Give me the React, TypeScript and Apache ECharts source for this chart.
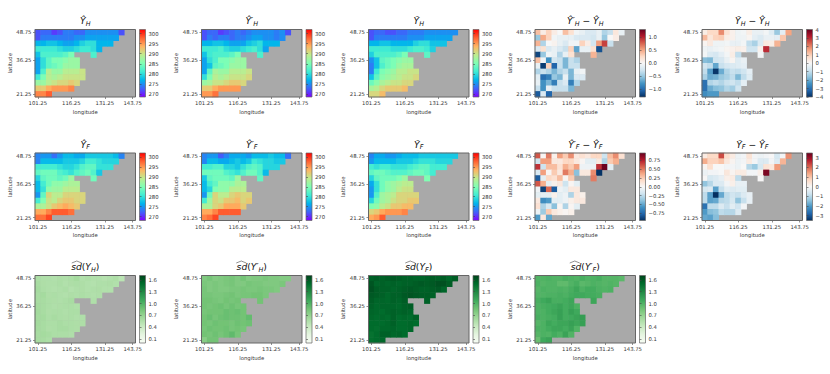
import React, { useEffect, useRef } from "react";
import * as echarts from "echarts";

const longitudes = ["101.25","103.75","106.25","108.75","111.25","113.75","116.25","118.75","121.25","123.75","126.25","128.75","131.25","133.75","136.25","138.75","141.25","143.75"];
const latitudesNorthFirst = ["48.75","46.25","43.75","41.25","38.75","36.25","33.75","31.25","28.75","26.25","23.75","21.25"];
const xTickIdx = [0, 6, 12, 17];
const yTickIdx = [0, 6, 11];

const _ = null;
const yHatH = [
  [272,273,273,271,272,274,274,273,273,275,275,275,275,275,275,272],
  [272,274,274,274,274,274,274,275,275,276,276,276,276,276,276],
  [277,277,278,278,277,276,276,277,279,280,280,277,277,277],
  [281,281,281,281,280,279,279,280,281,281,280,277],
  [278,282,282,282,282,283,285,_,_,_,282],
  [276,280,283,285,285,286,287,287],
  [276,280,283,284,285,287,287,287],
  [276,282,289,287,287,289,289,289,290],
  [281,285,289,288,289,290,290,290,290],
  [287,287,289,290,291,291,292,291],
  [292,292,294,295,295,295,296],
  [296,296,298],
];
const yPrimeH = [
  [272,273,273,271,272,273,274,273,274,275,275,275,275,274,275,272],
  [272,274,273,274,274,273,274,274,275,276,276,275,275,274,275],
  [277,277,278,278,277,276,276,276,278,279,280,277,277,277],
  [281,281,281,282,280,279,279,280,281,282,280,276],
  [278,281,282,282,282,283,285,_,_,_,282],
  [276,280,282,285,285,286,287,287],
  [276,278,283,284,285,287,287,287],
  [276,283,288,287,287,289,289,289,290],
  [280,285,289,288,289,290,290,290,291],
  [287,288,290,290,291,292,292,291],
  [292,292,294,295,295,295,295],
  [295,295,297],
];
const yTildeH = [
  [272,273,273,272,272,273,273,274,274,274,275,275,275,275,275,275],
  [272,274,274,274,274,274,274,275,275,275,276,276,276,276,276],
  [277,277,278,278,277,277,277,277,279,280,280,278,278,278],
  [281,281,281,281,280,280,280,281,282,282,281,279],
  [279,282,282,282,282,283,285,_,_,_,283],
  [275,278,283,284,285,286,287,287],
  [274,278,282,284,285,287,288,288],
  [274,281,285,286,287,289,289,290,290],
  [278,283,286,287,288,289,290,290,291],
  [284,286,288,289,290,290,291,291],
  [288,289,291,292,292,292,293],
  [291,291,293],
];
const yHatF = [
  [274,275,275,273,275,277,277,276,276,278,278,278,278,278,277,274],
  [274,277,277,277,277,278,278,278,279,281,281,280,279,279,279],
  [281,281,281,281,280,279,279,280,282,283,283,280,280,280],
  [283,284,284,284,282,281,280,282,283,284,282,278],
  [279,283,284,284,283,284,287,_,_,_,284],
  [277,281,284,286,286,287,288,288],
  [277,280,286,287,287,289,289,289],
  [275,283,291,289,289,291,291,291,291],
  [281,285,290,289,291,292,292,291,291],
  [288,288,290,292,293,294,293,292],
  [294,294,296,298,298,298,297],
  [297,297,299],
];
const yPrimeF = [
  [274,275,275,272,274,276,276,276,275,277,277,277,278,277,277,273],
  [274,277,277,276,276,277,278,277,278,281,280,279,279,278,278],
  [281,281,282,282,279,279,278,280,282,283,282,279,279,279],
  [284,284,284,284,282,281,280,282,284,284,282,277],
  [278,283,284,284,284,283,287,_,_,_,283],
  [277,281,283,286,286,286,288,288],
  [277,279,285,286,286,289,289,289],
  [275,284,291,289,289,291,292,291,291],
  [281,287,291,290,292,292,293,291,292],
  [288,288,291,292,294,294,294,292],
  [294,294,296,298,298,298,298],
  [296,297,299],
];
const yTildeF = [
  [274,276,276,275,275,276,277,277,277,278,278,278,278,278,278,278],
  [275,277,277,277,277,278,278,278,279,280,280,280,279,279,279],
  [281,280,281,281,280,280,280,281,282,283,283,281,281,281],
  [283,284,284,283,282,282,282,283,284,284,283,281],
  [279,283,284,284,284,285,287,_,_,_,285],
  [276,280,284,286,287,288,289,289],
  [275,280,284,286,287,289,290,290],
  [275,282,287,288,289,291,291,291,291],
  [279,284,287,288,290,291,291,292,292],
  [285,286,289,290,292,292,293,293],
  [291,292,294,295,295,295,296],
  [294,295,298],
];
const diffPrimeH = [
  [0.4,0.1,0.3,0.1,0,0.4,0.2,-0.05,-0.1,-0.2,-0.2,-0.1,-0.4,-0.3,0.15,-0.1],
  [-0.5,0.5,0.3,-0.05,-0.1,-0.1,-0.1,-0.2,-0.2,-0.2,-0.25,-0.1,-0.5,0,0.1],
  [0.45,-0.4,0,0.05,-0.1,-0.2,-0.05,-0.05,0.3,0.1,-0.25,0.55,0.9,-0.3],
  [-0.2,0.2,-0.2,-0.1,-0.2,-0.3,0.3,-0.7,-0.1,-0.1,0.2,-1.15],
  [-1.2,-0.5,-0.05,-0.1,-0.4,-0.1,0.2,_,_,_,0.45],
  [0.4,-0.05,-0.8,-0.25,-0.3,-0.6,-0.3,-0.4],
  [-0.1,-1.25,0.3,-1.05,-0.3,-0.6,-0.3,-0.3],
  [-0.4,-0.3,-0.4,-0.6,-0.4,-0.3,-0.6,-0.1,-0.05],
  [-0.15,-1,-0.9,-0.5,-0.6,-0.1,-0.6,-0.2,-0.2],
  [-0.1,-0.8,-0.6,-0.9,-0.3,-0.2,-0.9,-0.4],
  [-0.3,-0.8,-0.1,-0.3,-0.3,-0.3,-0.6],
  [-1.1,-0.2,-1.05],
];
const diffTildeH = [
  [0.3,0.8,0.8,1.9,0.6,0.2,-0.2,-0.1,0.3,-0.3,-0.3,-0.1,-0.5,-1.5,-0.4,1.6],
  [1.3,0.5,0.9,1,0.3,0.2,-0.2,-0.2,0.1,-0.4,-0.6,-0.3,-0.3,-0.4,1.1],
  [0.1,0.4,-0.2,-0.2,-0.1,-0.3,-0.3,-0.1,-1,-1.3,-0.6,0.4,0.3,1.4],
  [-0.2,-0.3,-0.2,-0.1,0.1,0.2,0.3,0.2,-0.8,-0.8,0.2,3],
  [-0.1,-0.6,-0.7,-0.4,-0.1,0.3,-1,_,_,_,-0.1],
  [-1.7,-1.8,-0.8,-0.7,-0.3,0.1,-0.5,-0.3],
  [-0.8,-1,-2.1,-0.9,-0.7,-0.6,-0.5,-0.4],
  [-1,-2.2,-3.9,-2,-1.2,-0.9,-1,-0.8,-0.4],
  [-1.3,-2,-1.9,-1.5,-1.3,-1,-1.8,-1,-0.5],
  [-3,-1.2,-1,-1.2,-0.9,-0.8,-1,-0.4],
  [-3,-2,-1.7,-1.6,-1.2,-1.4,-0.8],
  [-2.5,-2.3,-2.3],
];
const diffPrimeF = [
  [0.6,0.02,0.5,0.05,0.4,0.25,0.45,0.1,0.15,0.1,0.2,0.2,-0.2,0.3,0.45,0.15],
  [-0.2,0.4,0.4,0.1,0.1,0.2,0.2,0.1,0.02,-0.1,-0.1,0.1,-0.3,0.25,0.35],
  [0.7,-0.2,0.3,0.3,0.15,0.35,0.25,0.4,-0.05,-0.05,-0.05,0.7,0.95,-0.1],
  [-0.15,0.4,0.02,0.25,0.1,0.5,0.35,-0.4,0.1,0.1,0.45,-0.95],
  [-0.8,-0.1,0.2,0.15,0.3,0.02,0.25,_,_,_,0.5],
  [0.6,0.35,-0.1,0.05,0.1,-0.2,0.02,-0.1],
  [-0.05,-0.9,0.55,-0.8,-0.05,-0.1,0.1,0.1],
  [-0.1,-0.1,-0.1,0.05,-0.1,-0.05,-0.3,0.1,0.05],
  [0.1,-0.6,-0.55,-0.1,-0.1,-0.05,0.05,0.1,0.1],
  [0.15,-0.3,-0.15,-0.4,0.02,-0.3,0.02,-0.1],
  [-0.05,-0.35,0.25,0.1,0.05,0.02,0.05],
  [-0.55,0.1,-0.5],
];
const diffTildeF = [
  [0.3,0.7,0.7,2.3,0.6,0.3,-0.2,-0.1,0.5,-0.1,-0.2,-0.1,0.02,-0.6,-0.1,1.6],
  [1.3,0.8,0.8,1,0.4,0.1,-0.2,-0.1,0.3,-0.1,-0.5,-0.5,-0.1,-0.5,1.2],
  [0.1,0.6,0,0,-0.1,-0.1,-0.2,0,-1,-1.3,-0.6,0.5,0.4,1.5],
  [-0.2,-0.1,-0.1,0,0.4,0.1,0.3,0.3,-0.1,-0.1,0.2,3.3],
  [0.02,-0.6,-0.5,-0.3,0.2,0.3,-0.9,_,_,_,0.02],
  [-1.4,-1,-0.5,-0.5,-0.1,0.2,-0.3,-0.3],
  [-0.6,-0.5,-1.9,-0.8,-0.4,-0.5,-0.4,-0.4],
  [-0.9,-1.9,-3.5,-1.8,-0.9,-0.7,-0.8,-0.5,-0.3],
  [-0.9,-1.9,-1.8,-1,-0.9,-0.6,-1.4,-0.8,-0.3],
  [-2.6,-0.9,-0.9,-0.5,-0.8,-0.4,-0.7,-0.1],
  [-2,-1.5,-1.4,-0.9,-1,-1,-0.5],
  [-1.8,-1.9,-1.5],
];
const sdH = [
  [.58,.56,.56,.55,.57,.56,.58,.62,.55,.57,.55,.55,.53,.55,.57,.5],
  [.6,.57,.56,.56,.58,.55,.57,.58,.57,.55,.54,.56,.56,.57,.55],
  [.62,.58,.56,.55,.56,.58,.54,.56,.57,.55,.56,.57,.55,.55],
  [.6,.62,.57,.58,.56,.55,.57,.56,.58,.56,.55,.56],
  [.6,.6,.58,.57,.56,.58,.6,_,_,_,.56],
  [.62,.6,.58,.56,.57,.58,.58,.56],
  [.63,.6,.57,.58,.58,.56,.58,.58],
  [.62,.62,.58,.6,.58,.57,.58,.56,.56],
  [.63,.6,.58,.58,.6,.58,.58,.57,.57],
  [.62,.6,.57,.58,.6,.6,.58,.57],
  [.6,.62,.6,.58,.58,.58,.56],
  [.6,.6,.58],
];
const sdPrimeH = [
  [.8,.84,.78,.8,.82,.84,.8,.85,.78,.8,.8,.82,.8,.8,.78,.78],
  [.82,.8,.82,.8,.82,.84,.8,.8,.84,.82,.82,.8,.8,.8,.82],
  [.84,.8,.82,.8,.8,.82,.82,.84,.82,.82,.84,.82,.82,.8],
  [.84,.84,.82,.82,.84,.86,.82,.84,.84,.86,.86,.82],
  [.86,.86,.84,.82,.86,.84,.86,_,_,_,.86],
  [.86,.84,.86,.88,.84,.88,.84,.86],
  [.84,.86,.86,.86,.9,.88,.9,.86],
  [.86,.9,.84,.88,.9,.88,.88,.86,.92],
  [.86,.84,.88,.86,.86,.84,.88,.86,.88],
  [.84,.88,.86,.86,.88,.84,.86,.84],
  [.86,.84,.88,.84,.88,.94,.84],
  [.76,.86,.86],
];
const sdF = [
  [1.56,1.58,1.56,1.58,1.6,1.58,1.56,1.56,1.54,1.54,1.56,1.58,1.56,1.58,1.52,1.58],
  [1.62,1.54,1.56,1.54,1.56,1.54,1.56,1.56,1.58,1.6,1.58,1.6,1.64,1.64,1.58],
  [1.64,1.58,1.56,1.56,1.54,1.56,1.58,1.6,1.58,1.56,1.56,1.58,1.6,1.54],
  [1.6,1.58,1.56,1.52,1.56,1.56,1.6,1.62,1.6,1.58,1.58,1.56],
  [1.58,1.54,1.54,1.52,1.56,1.54,1.58,_,_,_,1.56],
  [1.56,1.52,1.54,1.54,1.54,1.52,1.56,1.58],
  [1.54,1.52,1.5,1.54,1.56,1.54,1.56,1.54],
  [1.52,1.5,1.52,1.5,1.56,1.5,1.52,1.5,1.56],
  [1.5,1.5,1.5,1.52,1.56,1.5,1.5,1.52,1.5],
  [1.5,1.48,1.52,1.52,1.54,1.5,1.5,1.52],
  [1.46,1.5,1.56,1.56,1.52,1.54,1.5],
  [1.48,1.5,1.52],
];
const sdPrimeF = [
  [1,1,1.02,1,1,1.04,1.02,1,1.04,1,1.02,1.04,.98,.98,.98,.96],
  [1.02,.98,1,1,.94,.94,1,1.04,.96,.98,1.02,1,.98,1,.98],
  [.98,1.02,1,1,1.02,1,1.04,1.1,1.02,1.06,1.06,1.02,1,1.02],
  [1,1,1.02,1.02,1.04,1.02,1.06,1.08,1.08,1.06,1.06,1.04],
  [1.04,1.08,1.12,1.04,1.04,1.06,1.1,_,_,_,1.1],
  [1.02,1.04,1.06,1.08,1.12,1.06,1.1,1.02],
  [1.02,1.02,1.06,1.1,1.14,1.06,1.14,1.08],
  [1.04,1.02,1.04,1.06,1.14,1.06,1.08,1.12,1.16],
  [.98,1.02,1.1,1.06,1.1,1.1,1.14,1.1,1.14],
  [1.02,1.02,1.06,1.1,1.1,1.06,1.12,1],
  [.98,1.02,1,1.06,1.02,1.12,1],
  [.9,1.08,1.12],
];

const RAINBOW = ["#7f00ff","#4062fa","#00b4ec","#40ecd4","#80ffb4","#bfec8e","#ffb462","#ff6232","#ff0000"];
const RDBU = ["#053061","#2166ac","#4393c3","#92c5de","#d1e5f0","#f7f7f7","#fddbc7","#f4a582","#d6604d","#b2182b","#67001f"];
const GREENS = ["#f7fcf5","#e5f5e0","#c7e9c0","#a1d99b","#74c476","#41ab5d","#238b45","#006d2c","#00441b"];

const tempTicks = [270,275,280,285,290,295,300];
const diffTicksA = [-1,-0.5,0,0.5,1];
const diffTicksB = [-4,-3,-2,-1,0,1,2,3,4];
const diffTicksC = [-0.75,-0.5,-0.25,0,0.25,0.5,0.75];
const diffTicksD = [-3,-2,-1,0,1,2,3];
const sdTicks = [0.1,0.4,0.7,1.0,1.3,1.6];

const COL_X = [35, 201.5, 368.5, 535, 702];
const ROW_Y = [29.5, 153, 275.5];
const PW = 100.5;
const PH = 67.5;
const CB_GAP = 4;
const FONT = "DejaVu Sans";

type P = { c: number; r: number; d: any[]; min: number; max: number; ticks: number[]; dec: number; colors: string[]; title: any };

const hat = (sym: string, s: string, rest = "") => `{y|${sym}}{s|${s}}${rest}`;
const panels: P[] = [
  { c:0,r:0,d:yHatH,min:268.5,max:302,ticks:tempTicks,dec:0,colors:RAINBOW,title:hat("Ŷ","H") },
  { c:1,r:0,d:yPrimeH,min:268.5,max:302,ticks:tempTicks,dec:0,colors:RAINBOW,title:hat("Ŷ′","H") },
  { c:2,r:0,d:yTildeH,min:268.5,max:302,ticks:tempTicks,dec:0,colors:RAINBOW,title:hat("Ỹ","H") },
  { c:3,r:0,d:diffPrimeH,min:-1.31,max:1.31,ticks:diffTicksA,dec:1,colors:RDBU,title:hat("Ŷ′","H")+"{o| − }"+hat("Ŷ","H") },
  { c:4,r:0,d:diffTildeH,min:-4,max:4,ticks:diffTicksB,dec:0,colors:RDBU,title:hat("Ỹ","H")+"{o| − }"+hat("Ŷ","H") },
  { c:0,r:1,d:yHatF,min:268,max:302,ticks:tempTicks,dec:0,colors:RAINBOW,title:hat("Ŷ","F") },
  { c:1,r:1,d:yPrimeF,min:268,max:302,ticks:tempTicks,dec:0,colors:RAINBOW,title:hat("Ŷ′","F") },
  { c:2,r:1,d:yTildeF,min:268,max:302,ticks:tempTicks,dec:0,colors:RAINBOW,title:hat("Ỹ","F") },
  { c:3,r:1,d:diffPrimeF,min:-0.96,max:0.96,ticks:diffTicksC,dec:2,colors:RDBU,title:hat("Ŷ′","F")+"{o| − }"+hat("Ŷ","F") },
  { c:4,r:1,d:diffTildeF,min:-3.5,max:3.5,ticks:diffTicksD,dec:0,colors:RDBU,title:hat("Ỹ","F")+"{o| − }"+hat("Ŷ","F") },
  { c:0,r:2,d:sdH,min:0,max:1.71,ticks:sdTicks,dec:1,colors:GREENS,title:"{y|sd}{o|(}{y|Y}{s|H}{o|)}" },
  { c:1,r:2,d:sdPrimeH,min:0,max:1.71,ticks:sdTicks,dec:1,colors:GREENS,title:"{y|sd}{o|(}{y|Y′}{s|H}{o|)}" },
  { c:2,r:2,d:sdF,min:0,max:1.71,ticks:sdTicks,dec:1,colors:GREENS,title:"{y|sd}{o|(}{y|Y}{s|F}{o|)}" },
  { c:3,r:2,d:sdPrimeF,min:0,max:1.71,ticks:sdTicks,dec:1,colors:GREENS,title:"{y|sd}{o|(}{y|Y′}{s|F}{o|)}" },
];

function buildOption() {
  const grid: any[] = [], xAxis: any[] = [], yAxis: any[] = [], series: any[] = [], visualMap: any[] = [], graphic: any[] = [];
  const lats = [...latitudesNorthFirst].reverse();
  const ink = "#333";
  panels.forEach((p) => {
    const left = COL_X[p.c], top = ROW_Y[p.r];
    const gi = grid.length;
    grid.push({ show: true, left, top, width: PW, height: PH, backgroundColor: "#a9a9a9", borderWidth: 0 });
    xAxis.push({
      gridIndex: gi, type: "category", data: longitudes, name: "longitude", nameLocation: "middle", nameGap: 12,
      nameTextStyle: { fontFamily: FONT, fontSize: 5.3, color: ink },
      axisLine: { show: false }, splitLine: { show: false },
      axisTick: { show: true, alignWithLabel: true, length: 2, interval: (i: number) => xTickIdx.includes(i), lineStyle: { color: "#444", width: 0.6 } },
      axisLabel: { show: true, fontFamily: FONT, fontSize: 5.3, color: ink, margin: 3.5, hideOverlap: false, interval: (i: number) => xTickIdx.includes(i) },
    });
    yAxis.push({
      gridIndex: gi, type: "category", data: lats, name: "latitude", nameLocation: "middle", nameGap: 22.5,
      nameTextStyle: { fontFamily: FONT, fontSize: 5.3, color: ink },
      axisLine: { show: false }, splitLine: { show: false },
      axisTick: { show: true, alignWithLabel: true, length: 2, interval: (i: number) => yTickIdx.includes(i), lineStyle: { color: "#444", width: 0.6 } },
      axisLabel: { show: true, fontFamily: FONT, fontSize: 5.3, color: ink, margin: 3.5, hideOverlap: false, interval: (i: number) => yTickIdx.includes(i) },
    });
    const data: any[] = [];
    p.d.forEach((row: any[], r: number) => row.forEach((v, c) => { if (v !== null) data.push([c, 11 - r, v]); }));
    const si = series.length;
    series.push({ type: "heatmap", xAxisIndex: gi, yAxisIndex: gi, data, itemStyle: { borderWidth: 0 }, emphasis: { disabled: true }, progressive: 0 });
    visualMap.push({ type: "continuous", show: false, seriesIndex: si, dimension: 2, min: p.min, max: p.max, inRange: { color: p.colors } });

    // colour bar: a grid whose background is the colour map and whose right axis carries the ticks
    const cb = grid.length;
    const n = p.colors.length - 1;
    grid.push({
      show: true, left: left + PW + CB_GAP, top, width: 6, height: PH, borderWidth: 0,
      backgroundColor: new (echarts.graphic as any).LinearGradient(0, 1, 0, 0, p.colors.map((color, i) => ({ offset: i / n, color }))),
    });
    xAxis.push({ gridIndex: cb, type: "value", min: 0, max: 1, show: false });
    yAxis.push({
      gridIndex: cb, type: "value", position: "right", min: p.min, max: p.max,
      axisLine: { show: false }, splitLine: { show: false },
      axisTick: { show: true, customValues: p.ticks, length: 2, lineStyle: { color: "#444", width: 0.6 } },
      axisLabel: { show: true, customValues: p.ticks, fontFamily: FONT, fontSize: 5.3, color: ink, margin: 3, hideOverlap: false, showMinLabel: true, showMaxLabel: true,
        formatter: (v: number) => v.toFixed(p.dec).replace("-", "−") },
    });

    const frame = { type: "rect", silent: true, z: 50, style: { fill: "none", stroke: "#666", lineWidth: 1 } };
    graphic.push({ ...frame, shape: { x: left, y: top, width: PW, height: PH } });
    graphic.push({ ...frame, shape: { x: left + PW + CB_GAP, y: top, width: 6, height: PH }, style: { fill: "none", stroke: "#666", lineWidth: 0.7 } });

    const cx = left + PW / 2;
    graphic.push({
      type: "text", z: 60, silent: true, x: cx, y: top - 9,
      style: {
        text: p.title, align: "center", verticalAlign: "middle", fill: "#111",
        rich: {
          y: { fontFamily: FONT, fontSize: 9.2, fontStyle: "italic", lineHeight: 12, fill: "#111" },
          s: { fontFamily: FONT, fontSize: 6.4, fontStyle: "italic", lineHeight: 6.6, verticalAlign: "bottom", fill: "#111" },
          o: { fontFamily: FONT, fontSize: 9.2, lineHeight: 12, fill: "#111" },
        },
      },
    });
    if (p.r === 2) {
      const hatW = p.title.includes("′") ? -15.5 : -13.5;
      graphic.push({
        type: "polyline", z: 60, silent: true,
        shape: { points: [[cx + hatW, top - 12.5], [cx + hatW + 5, top - 14.5], [cx + hatW + 10, top - 12.5]] },
        style: { stroke: "#222", fill: "none", lineWidth: 0.5 },
      });
    }
  });
  return { animation: false, backgroundColor: "#fff", grid, xAxis, yAxis, series, visualMap, graphic };
}

export default function App() {
  const ref = useRef<HTMLDivElement>(null);
  useEffect(() => {
    const chart = echarts.init(ref.current!, undefined, { renderer: "svg" });
    chart.setOption(buildOption() as any);
    return () => chart.dispose();
  }, []);
  return <div ref={ref} style={{ position: "absolute", left: 0, top: 0, width: 830, height: 374 }} />;
}
